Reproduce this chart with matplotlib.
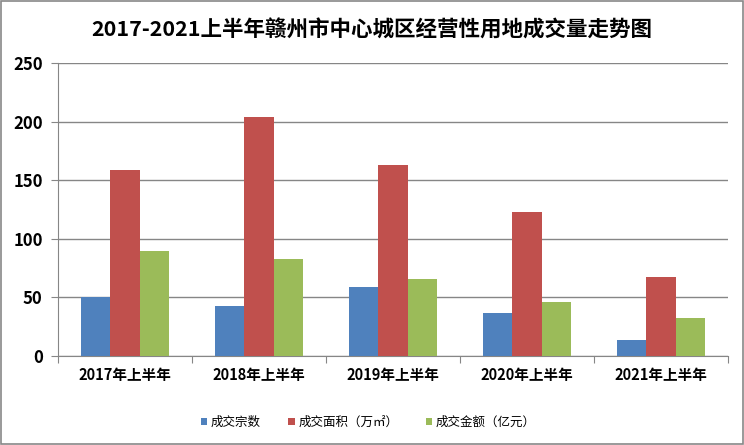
import numpy as np
import matplotlib.pyplot as plt
from matplotlib.patches import Rectangle

plt.rcParams['font.family'] = ['Noto Sans CJK SC', 'DejaVu Sans']

# 数据
categories = ['2017年上半年', '2018年上半年', '2019年上半年', '2020年上半年', '2021年上半年']
deal_count = [50, 43, 59, 37, 14]
deal_area = [159, 204, 163, 123, 67]
deal_amount = [90, 83, 66, 46, 32]
series_names = ['成交宗数', '成交面积（万㎡）', '成交金额（亿元）']
colors = ['#4F81BD', '#C0504D', '#9BBB59']

fig = plt.figure(figsize=(7.44, 4.45), dpi=100)
ax = fig.add_axes([58 / 744, 1 - 356 / 445, 670 / 744, 293 / 445])

x = np.arange(len(categories))
w = 0.22
for i, vals in enumerate([deal_count, deal_area, deal_amount]):
    ax.bar(x + (i - 1) * w, vals, width=w, color=colors[i], label=series_names[i], zorder=3)

ax.set_xlim(-0.5, len(categories) - 0.5)
ax.set_ylim(0, 250)
ax.set_yticks(range(0, 251, 50))
ax.yaxis.grid(True, color='#868686', linewidth=1, zorder=0)

# 刻度线放在类别之间
ax.set_xticks(np.arange(-0.5, len(categories), 1.0))
ax.set_xticklabels([])
ax.set_xticks(x, minor=True)
ax.set_xticklabels(categories, minor=True, fontsize=10.5, fontweight='bold')
ax.tick_params(axis='x', which='major', length=5, color='#868686', direction='out')
ax.tick_params(axis='x', which='minor', length=0, pad=8)
ax.tick_params(axis='y', length=5, color='#868686', labelsize=12, pad=6)
for lbl in ax.get_yticklabels():
    lbl.set_fontweight('bold')

for side in ['top', 'right']:
    ax.spines[side].set_visible(False)
ax.spines['left'].set_color('#868686')
ax.spines['bottom'].set_color('#868686')

fig.text(0.5, 1 - 30 / 445, '2017-2021上半年赣州市中心城区经营性用地成交量走势图',
         ha='center', va='center', fontsize=15.5, fontweight='bold')

fig.legend(loc='center', bbox_to_anchor=(0.495, 1 - 422 / 445), ncol=3, frameon=False,
           fontsize=9, handlelength=0.5, handleheight=0.5, handletextpad=0.3,
           columnspacing=2.2)

fig.patches.append(Rectangle((0.002, 0.002), 0.996, 0.996, transform=fig.transFigure,
                             fill=False, edgecolor='#888888', linewidth=1.2))

fig.savefig('out.png', dpi=100)
